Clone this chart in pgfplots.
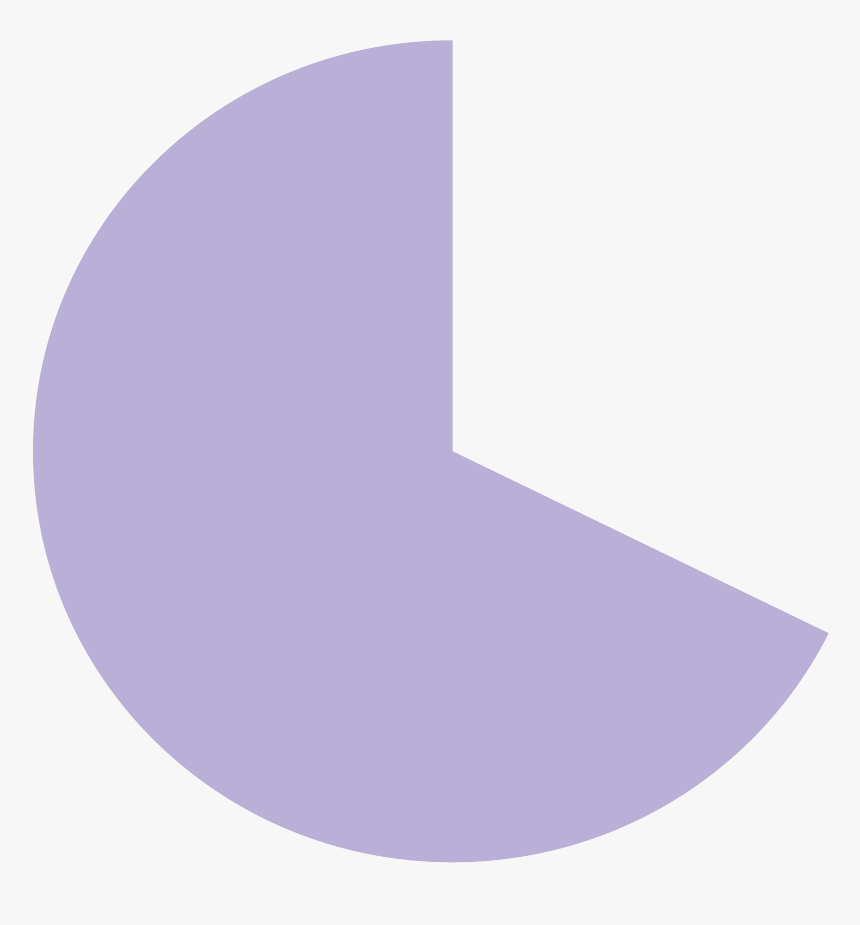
\documentclass[border=0pt]{standalone}
\usepackage{pgfplots}
\usepackage{pgfplotstable}
\pgfplotsset{compat=1.18}

\definecolor{bgcol}{HTML}{F7F7F7}
\definecolor{slicecol}{HTML}{B9AFD7}

% share of the pie, in percent
\pgfplotstableread{
part value
filled 67.7
empty 32.3
}\piedata

\begin{document}
\begin{tikzpicture}
\pgfplotstablegetelem{0}{value}\of\piedata
\pgfmathsetmacro{\endang}{90+3.6*\pgfplotsretval}
\begin{axis}[
    scale only axis,
    width=430pt, height=462.5pt,
    xmin=-1.0787, xmax=0.9714,
    ymin=-1.1526, ymax=1.0981,
    hide axis,
    clip=false,
]
  \fill[bgcol] (rel axis cs:0,0) rectangle (rel axis cs:1,1);
  \fill[slicecol] (axis cs:0,0) -- (axis cs:0,1)
      arc[start angle=90, end angle=\endang, x radius=1, y radius=1] -- cycle;
\end{axis}
\end{tikzpicture}
\end{document}
